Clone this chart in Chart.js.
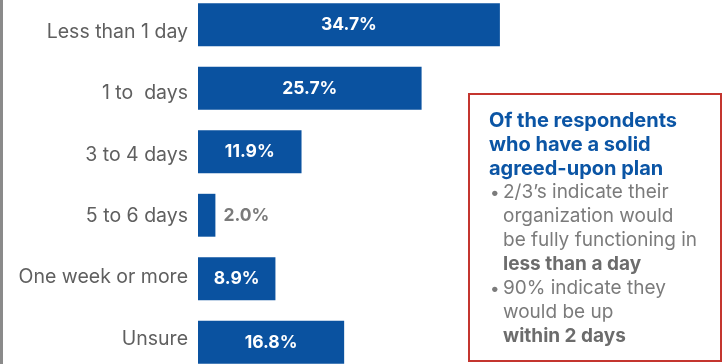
<!DOCTYPE html>
<html>
<head>
<meta charset="utf-8">
<script src="https://cdn.jsdelivr.net/npm/chart.js@4"></script>
<style>
  html, body { margin: 0; padding: 0; background: #fff; overflow: hidden; }
  #wrap { position: relative; width: 727px; height: 364px; overflow: hidden; border-left: 3px solid #8a8a8a; box-sizing: border-box; }
  #chartBox { position: absolute; left: -3px; top: -7px; width: 727px; height: 381px; }
  #note {
    position: absolute; left: 465px; top: 93px; width: 254px; height: 269px;
    box-sizing: border-box; border: 2px solid #c4352f;
    padding: 13px 0 0 19px;
    font-family: Inter, sans-serif; font-size: 19px; line-height: 24px;
    color: #7b7b7b; white-space: nowrap;
  }
  #note .head { color: #0b55a5; font-weight: 700; font-size: 20px; }
  #note .item { position: relative; padding-left: 14px; }
  #note .dot { position: absolute; left: 1px; top: 0; font-size: 17px; }
  #note b { color: #6c6c6c; }
</style>
</head>
<body>
<div id="wrap">
  <div id="chartBox"><canvas id="chart"></canvas></div>
  <div id="note">
    <div class="head">Of the respondents<br>who have a solid<br>agreed-upon plan</div>
    <div class="item"><span class="dot">•</span>2/3’s indicate their<br>organization would<br>be fully functioning in<br><b>less than a day</b></div>
    <div class="item"><span class="dot">•</span>90% indicate they<br>would be up<br><b>within 2 days</b></div>
  </div>
</div>
<script>
const categories = ["Less than 1 day", "1 to  days", "3 to 4 days", "5 to 6 days", "One week or more", "Unsure"];
const shares = [34.7, 25.7, 11.9, 2.0, 8.9, 16.8];

const barBlue = "#0a52a0";
const fontFamily = "Inter, sans-serif";
// category names are packed a bit tighter than the bars themselves
const labelSpread = 0.965;

// writes the percentage on each bar; short bars get it just past the end
const valueLabels = {
  id: "valueLabels",
  afterDatasetsDraw(chart) {
    const ctx = chart.ctx;
    const meta = chart.getDatasetMeta(0);
    ctx.save();
    ctx.font = "700 17.5px " + fontFamily;
    ctx.textBaseline = "middle";
    meta.data.forEach((bar, i) => {
      const v = shares[i];
      const txt = v.toFixed(1) + "%";
      if (v < 5) {
        ctx.fillStyle = "#7a7a7a";
        ctx.textAlign = "left";
        ctx.fillText(txt, bar.x + 8, bar.y);
      } else {
        ctx.fillStyle = "#ffffff";
        ctx.textAlign = "center";
        ctx.fillText(txt, (bar.x + bar.base) / 2, bar.y);
      }
    });
    ctx.restore();
  }
};

new Chart(document.getElementById("chart"), {
  type: "bar",
  data: {
    labels: categories,
    datasets: [{
      data: shares,
      backgroundColor: barBlue,
      borderWidth: 0,
      categoryPercentage: 1,
      barPercentage: 0.7
    }]
  },
  options: {
    indexAxis: "y",
    responsive: true,
    maintainAspectRatio: false,
    animation: false,
    layout: { padding: { left: 0, right: 727 - 198 - 348, top: 0, bottom: 0 } },
    scales: {
      x: {
        display: false,
        min: 0,
        max: 40
      },
      y: {
        afterFit(scale) {
          scale.width = 198;
          scale.paddingTop = 0;
          scale.paddingBottom = 0;
          // tick labels only: pull them toward the middle
          scale.getPixelForTick = function (i) {
            const mid = this.getPixelForValue((categories.length - 1) / 2);
            return mid + (this.getPixelForValue(i) - mid) * labelSpread;
          };
        },
        grid: { display: false, drawTicks: false },
        border: { display: false },
        ticks: {
          padding: 10,
          labelOffset: 2,
          color: "#5f5f5f",
          font: { family: fontFamily, size: 19.5 }
        }
      }
    },
    plugins: {
      legend: { display: false },
      tooltip: { enabled: false }
    }
  },
  plugins: [valueLabels]
});
</script>
</body>
</html>
